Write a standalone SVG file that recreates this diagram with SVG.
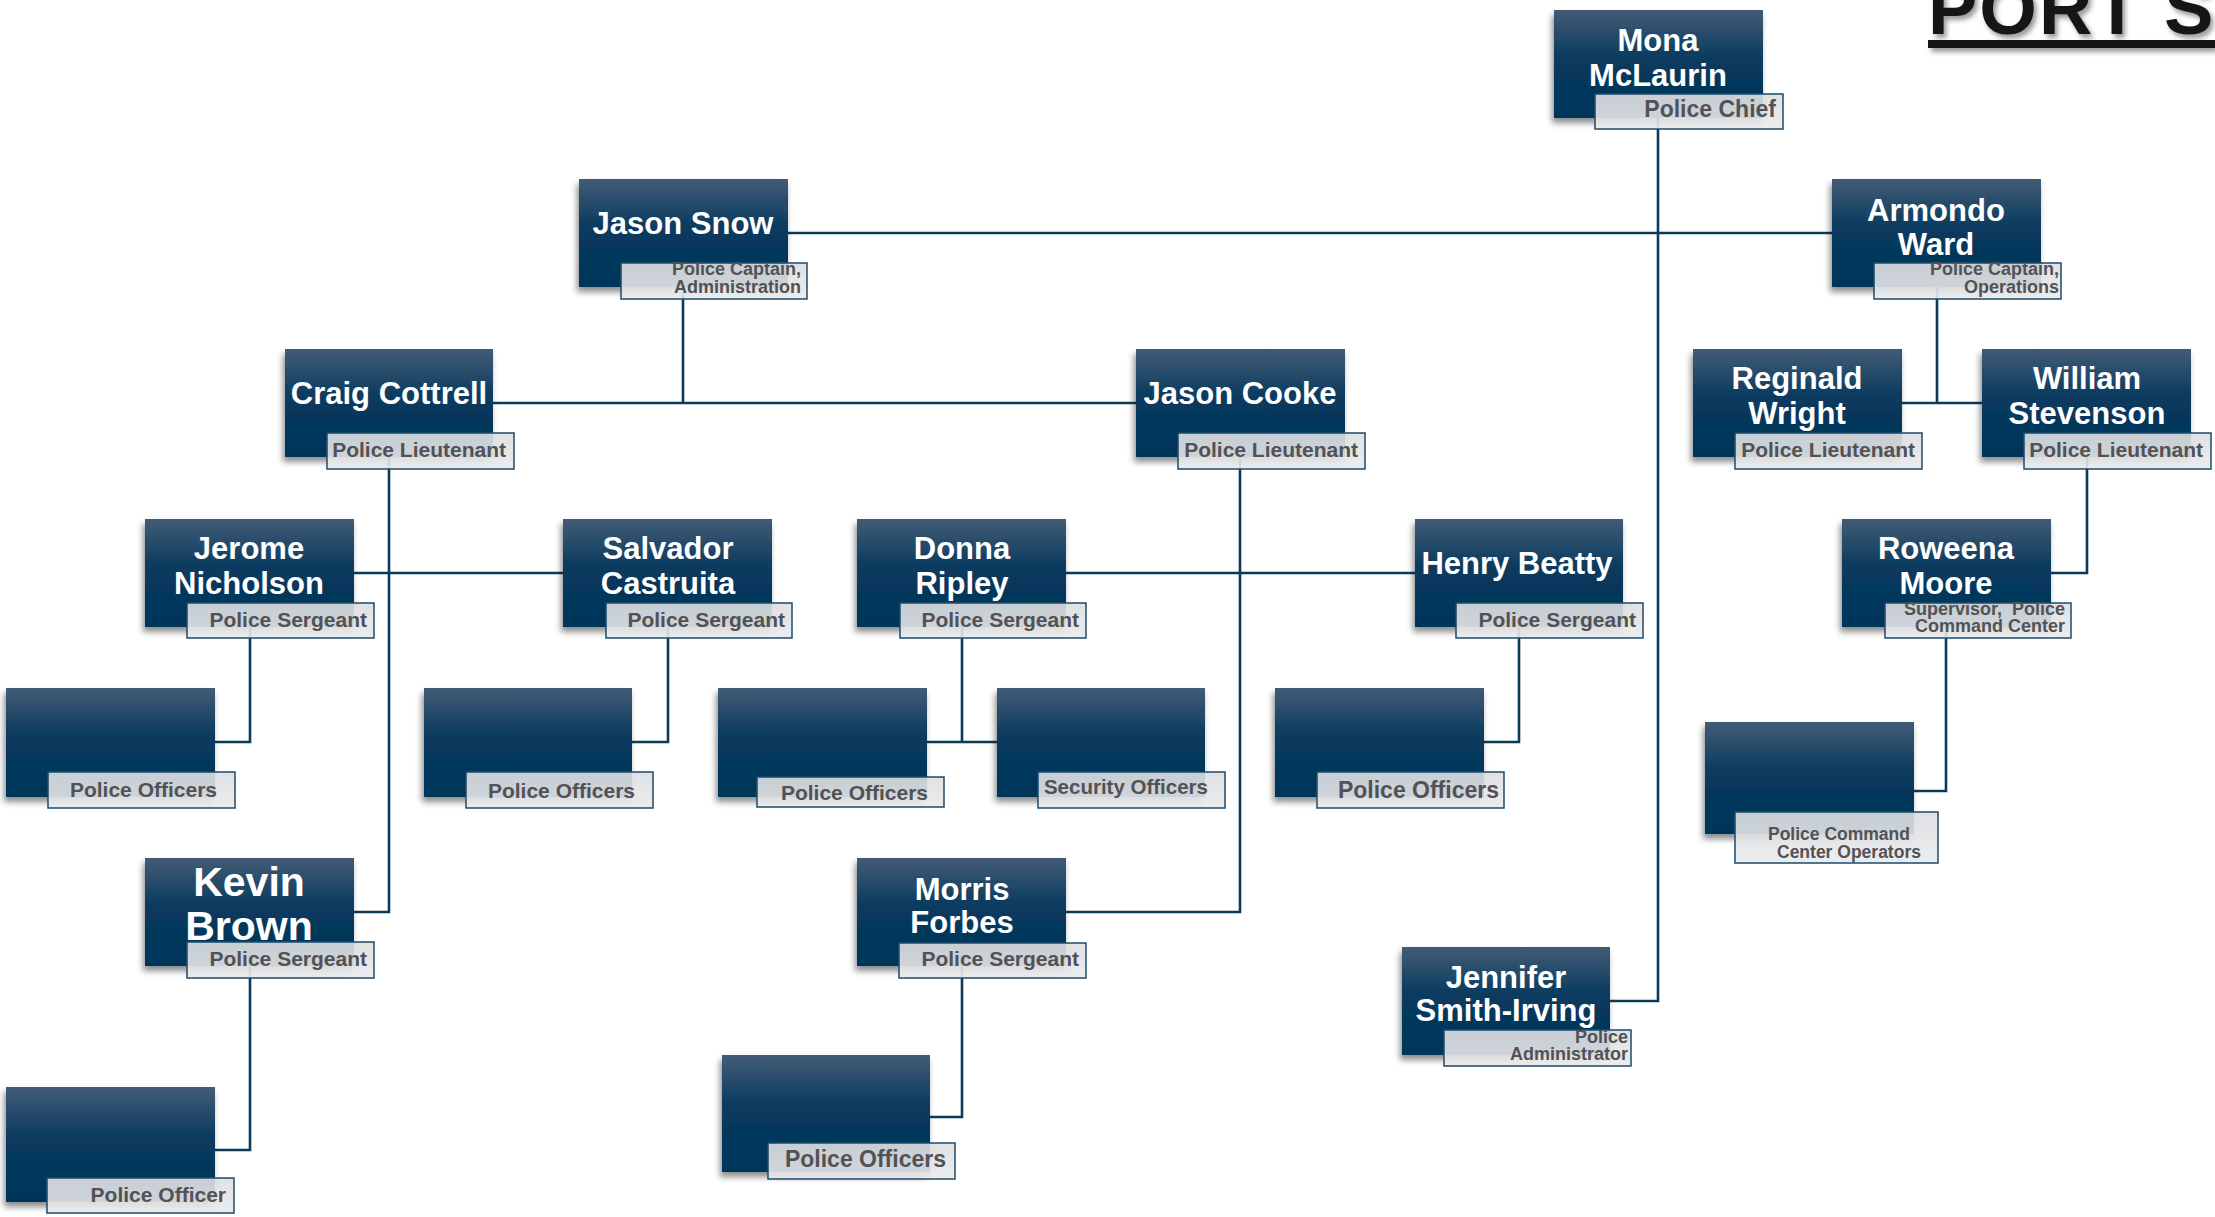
<svg xmlns="http://www.w3.org/2000/svg" width="2215" height="1217" viewBox="0 0 2215 1217">
<defs>
<linearGradient id="boxg" x1="0" y1="0" x2="0" y2="1">
<stop offset="0" stop-color="#435c76"/>
<stop offset="0.45" stop-color="#083a5e"/>
<stop offset="1" stop-color="#03355a"/>
</linearGradient>
<linearGradient id="lblg" x1="0" y1="0" x2="0" y2="1">
<stop offset="0" stop-color="#dcdee1"/>
<stop offset="1" stop-color="#e9eaeb"/>
</linearGradient>
<filter id="sh" x="-10%" y="-10%" width="125%" height="135%">
<feDropShadow dx="-2" dy="5" stdDeviation="3" flood-color="#000" flood-opacity="0.45"/>
</filter>
<filter id="tsh" x="-5%" y="-20%" width="115%" height="160%">
<feDropShadow dx="3" dy="4" stdDeviation="2.5" flood-color="#000" flood-opacity="0.4"/>
</filter>
</defs>
<style>
.box{fill:url(#boxg);filter:url(#sh);}
.lbl{fill:url(#lblg);fill-opacity:0.9;stroke:#1d4a6b;stroke-width:1.5;}
.name{font-family:"Liberation Sans",Arial,sans-serif;font-weight:bold;font-size:31px;fill:#ffffff;text-anchor:middle;}
.title{font-family:"Liberation Sans",Arial,sans-serif;font-weight:bold;fill:#525255;text-anchor:end;}
.t18{font-size:18px;}
.t21{font-size:21px;}
.t23{font-size:23px;}
.conn{fill:none;stroke:#0e3a5a;stroke-width:2.6;}
</style>
<rect x="0" y="0" width="2215" height="1217" fill="#ffffff"/>

<g id="heading" filter="url(#tsh)">
<text x="1928" y="34" font-family="'Liberation Sans',Arial,sans-serif" font-weight="bold" font-size="74" letter-spacing="2" fill="#161616">PORT S</text>
<rect x="1928" y="40" width="287" height="8" fill="#161616"/>
</g>

<g id="connectors" class="conn">
<path d="M1658 118 V1001 H1610"/>
<path d="M787 233 H1832"/>
<path d="M683 287 V403"/>
<path d="M493 403 H1136"/>
<path d="M1937 287 V403"/>
<path d="M1902 403 H1982"/>
<path d="M389 457 V912 H354"/>
<path d="M354 573 H563"/>
<path d="M1240 457 V912 H1066"/>
<path d="M1066 573 H1415"/>
<path d="M2087 457 V573 H2051"/>
<path d="M1946 627 V791 H1914"/>
<path d="M250 627 V742 H215"/>
<path d="M668 627 V742 H632"/>
<path d="M962 627 V742"/>
<path d="M927 742 H997"/>
<path d="M1519 627 V742 H1484"/>
<path d="M250 966 V1150 H215"/>
<path d="M962 966 V1117 H930"/>
</g>

<g id="n-mona">
<rect class="box" x="1554" y="10" width="209" height="108"/>
<rect class="lbl" x="1595" y="94" width="188" height="35"/>
<text class="name"><tspan x="1658" y="51">Mona</tspan><tspan x="1658" y="86">McLaurin</tspan></text>
<text class="title t23" x="1776" y="117">Police Chief</text>
</g>

<g id="n-snow">
<rect class="box" x="579" y="179" width="209" height="108"/>
<rect class="lbl" x="621" y="263" width="186" height="36"/>
<text class="name" x="683" y="234">Jason Snow</text>
<text class="title t18"><tspan x="801" y="275">Police Captain,</tspan><tspan x="801" y="293">Administration</tspan></text>
</g>

<g id="n-ward">
<rect class="box" x="1832" y="179" width="209" height="108"/>
<rect class="lbl" x="1874" y="263" width="187" height="36"/>
<text class="name"><tspan x="1936" y="221">Armondo</tspan><tspan x="1936" y="255">Ward</tspan></text>
<text class="title t18"><tspan x="2059" y="275">Police Captain,</tspan><tspan x="2059" y="293">Operations</tspan></text>
</g>

<g id="n-cottrell">
<rect class="box" x="285" y="349" width="208" height="108"/>
<rect class="lbl" x="327" y="433" width="187" height="36"/>
<text class="name" x="389" y="404">Craig Cottrell</text>
<text class="title t21" x="506" y="457">Police Lieutenant</text>
</g>

<g id="n-cooke">
<rect class="box" x="1136" y="349" width="209" height="108"/>
<rect class="lbl" x="1178" y="433" width="187" height="36"/>
<text class="name" x="1240" y="404">Jason Cooke</text>
<text class="title t21" x="1358" y="457">Police Lieutenant</text>
</g>

<g id="n-wright">
<rect class="box" x="1693" y="349" width="209" height="108"/>
<rect class="lbl" x="1735" y="433" width="187" height="36"/>
<text class="name"><tspan x="1797" y="389">Reginald</tspan><tspan x="1797" y="424">Wright</tspan></text>
<text class="title t21" x="1915" y="457">Police Lieutenant</text>
</g>

<g id="n-stevenson">
<rect class="box" x="1982" y="349" width="209" height="108"/>
<rect class="lbl" x="2024" y="433" width="187" height="36"/>
<text class="name"><tspan x="2087" y="389">William</tspan><tspan x="2087" y="424">Stevenson</tspan></text>
<text class="title t21" x="2203" y="457">Police Lieutenant</text>
</g>

<g id="n-nicholson">
<rect class="box" x="145" y="519" width="209" height="108"/>
<rect class="lbl" x="187" y="603" width="187" height="35"/>
<text class="name"><tspan x="249" y="559">Jerome</tspan><tspan x="249" y="594">Nicholson</tspan></text>
<text class="title t21" x="367" y="627">Police Sergeant</text>
</g>

<g id="n-castruita">
<rect class="box" x="563" y="519" width="209" height="108"/>
<rect class="lbl" x="606" y="603" width="186" height="35"/>
<text class="name"><tspan x="668" y="559">Salvador</tspan><tspan x="668" y="594">Castruita</tspan></text>
<text class="title t21" x="785" y="627">Police Sergeant</text>
</g>

<g id="n-ripley">
<rect class="box" x="857" y="519" width="209" height="108"/>
<rect class="lbl" x="900" y="603" width="186" height="35"/>
<text class="name"><tspan x="962" y="559">Donna</tspan><tspan x="962" y="594">Ripley</tspan></text>
<text class="title t21" x="1079" y="627">Police Sergeant</text>
</g>

<g id="n-beatty">
<rect class="box" x="1415" y="519" width="208" height="108"/>
<rect class="lbl" x="1456" y="603" width="187" height="35"/>
<text class="name" x="1517" y="574">Henry Beatty</text>
<text class="title t21" x="1636" y="627">Police Sergeant</text>
</g>

<g id="n-moore">
<rect class="box" x="1842" y="519" width="209" height="108"/>
<rect class="lbl" x="1885" y="603" width="186" height="35"/>
<text class="name"><tspan x="1946" y="559">Roweena</tspan><tspan x="1946" y="594">Moore</tspan></text>
<text class="title t18" style="white-space:pre"><tspan x="2065" y="615">Supervisor,  Police</tspan><tspan x="2065" y="632">Command Center</tspan></text>
</g>

<g id="n-officers-nicholson">
<rect class="box" x="6" y="688" width="209" height="109"/>
<rect class="lbl" x="48" y="772" width="187" height="36"/>
<text class="title t21" x="217" y="797">Police Officers</text>
</g>

<g id="n-officers-castruita">
<rect class="box" x="424" y="688" width="208" height="109"/>
<rect class="lbl" x="466" y="772" width="187" height="36"/>
<text class="title t21" x="635" y="798">Police Officers</text>
</g>

<g id="n-officers-ripley">
<rect class="box" x="718" y="688" width="209" height="109"/>
<rect class="lbl" x="757" y="777" width="187" height="30"/>
<text class="title t21" x="928" y="800">Police Officers</text>
</g>

<g id="n-security-ripley">
<rect class="box" x="997" y="688" width="208" height="109"/>
<rect class="lbl" x="1038" y="772" width="187" height="36"/>
<text class="title" font-size="20.5" x="1208" y="794">Security Officers</text>
</g>

<g id="n-officers-beatty">
<rect class="box" x="1275" y="688" width="209" height="109"/>
<rect class="lbl" x="1317" y="772" width="187" height="36"/>
<text class="title t23" x="1499" y="798">Police Officers</text>
</g>

<g id="n-pcc-operators">
<rect class="box" x="1705" y="722" width="209" height="112"/>
<rect class="lbl" x="1735" y="812" width="203" height="51"/>
<text class="title" font-size="17.5" style="text-anchor:start"><tspan x="1768" y="840">Police Command</tspan><tspan x="1777" y="858">Center Operators</tspan></text>
</g>

<g id="n-brown">
<rect class="box" x="145" y="858" width="209" height="108"/>
<rect class="lbl" x="187" y="942" width="187" height="36"/>
<text class="name" style="font-size:41px"><tspan x="249" y="896">Kevin</tspan><tspan x="249" y="940">Brown</tspan></text>
<text class="title t21" x="367" y="966">Police Sergeant</text>
</g>

<g id="n-forbes">
<rect class="box" x="857" y="858" width="209" height="108"/>
<rect class="lbl" x="899" y="943" width="187" height="35"/>
<text class="name"><tspan x="962" y="900">Morris</tspan><tspan x="962" y="933">Forbes</tspan></text>
<text class="title t21" x="1079" y="966">Police Sergeant</text>
</g>

<g id="n-smith-irving">
<rect class="box" x="1402" y="947" width="208" height="108"/>
<rect class="lbl" x="1444" y="1030" width="187" height="36"/>
<text class="name"><tspan x="1506" y="988">Jennifer</tspan><tspan x="1506" y="1021">Smith-Irving</tspan></text>
<text class="title t18"><tspan x="1628" y="1043">Police</tspan><tspan x="1628" y="1060">Administrator</tspan></text>
</g>

<g id="n-officer-brown">
<rect class="box" x="6" y="1087" width="209" height="115"/>
<rect class="lbl" x="47" y="1178" width="187" height="35"/>
<text class="title t21" x="226" y="1202">Police Officer</text>
</g>

<g id="n-officers-forbes">
<rect class="box" x="722" y="1055" width="208" height="117"/>
<rect class="lbl" x="768" y="1143" width="187" height="36"/>
<text class="title t23" x="946" y="1167">Police Officers</text>
</g>
</svg>
